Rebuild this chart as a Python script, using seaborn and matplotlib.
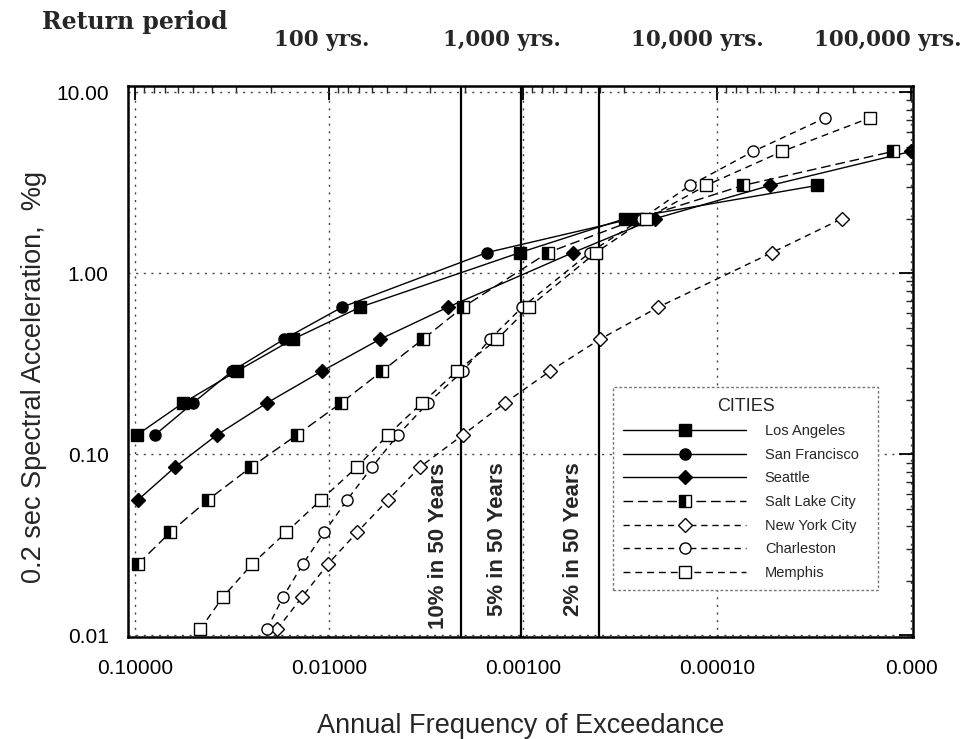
import numpy as np
import pandas as pd
import matplotlib
matplotlib.use('Agg')
import matplotlib.pyplot as plt
import seaborn as sns

# hazard curves: annual frequency vs 0.2 s spectral acceleration (%g)
la_freq = [0.0976, 0.0566, 0.0298, 0.01534, 0.00692, 0.001036, 0.000298, 0.0000305]
la_acc = [0.128, 0.192, 0.288, 0.432, 0.649, 1.3, 2.0, 3.05]

sf_freq = [0.0789, 0.0502, 0.0316, 0.01706, 0.00857, 0.001534, 0.000274]
sf_acc = [0.128, 0.192, 0.288, 0.432, 0.649, 1.3, 2.0]

sea_freq = [0.0965, 0.0622, 0.0378, 0.0209, 0.01087, 0.00546, 0.00244,
            0.000552, 0.000209, 0.0000533, 0.0000100]
sea_acc = [0.056, 0.085, 0.128, 0.192, 0.288, 0.432, 0.649, 1.3, 2.0, 3.05, 4.7]

slc_freq = [0.0965, 0.0660, 0.0421, 0.0252, 0.01462, 0.00867, 0.00533, 0.00328,
            0.00204, 0.000743, 0.000255, 0.0000735, 0.0000124]
slc_acc = [0.0248, 0.037, 0.056, 0.085, 0.128, 0.192, 0.288, 0.432, 0.649,
           1.3, 2.0, 3.05, 4.7]

nyc_freq = [0.01854, 0.01377, 0.01012, 0.00718, 0.00497, 0.0034, 0.00204, 0.00124,
            0.000726, 0.000401, 0.000201, 0.000052, 0.0000227]
nyc_acc = [0.0108, 0.0163, 0.0248, 0.037, 0.056, 0.085, 0.128, 0.192, 0.288,
           0.432, 0.649, 1.3, 2.0]

chs_freq = [0.0209, 0.01726, 0.01362, 0.01061, 0.00807, 0.0060, 0.00441, 0.00309,
            0.00204, 0.00148, 0.00101, 0.000452, 0.000244, 0.000138, 0.0000652, 0.0000277]
chs_acc = [0.0108, 0.0163, 0.0248, 0.037, 0.056, 0.085, 0.128, 0.192, 0.288,
           0.432, 0.649, 1.3, 2.0, 3.05, 4.7, 7.2]

mem_freq = [0.0462, 0.0352, 0.0249, 0.01667, 0.011, 0.00718, 0.00497, 0.00332,
            0.00219, 0.00136, 0.000931, 0.000421, 0.000232, 0.000114, 0.0000462, 0.0000163]
mem_acc = [0.0108, 0.0163, 0.0248, 0.037, 0.056, 0.085, 0.128, 0.192, 0.288,
           0.432, 0.649, 1.3, 2.0, 3.05, 4.7, 7.2]

# probability-of-exceedance lines (annual frequency)
poe_freq = [0.0021, 0.001026, 0.000404]
poe_labels = ['10% in 50 Years', '5% in 50 Years', '2% in 50 Years']
poe_label_x = [0.00274, 0.00136, 0.000552]
poe_label_y = [0.0109, 0.0128, 0.0128]

x_ticks = [0.1, 0.01, 0.001, 0.0001, 0.00001]
x_ticklabels = ['0.10000', '0.01000', '0.00100', '0.00010', '0.000']
y_ticks = [0.01, 0.1, 1, 10]
y_ticklabels = ['0.01', '0.10', '1.00', '10.00']

return_labels = ['100 yrs.', '1,000 yrs.', '10,000 yrs.', '100,000 yrs.']

sns.set_style('white')
plt.rcParams['font.family'] = ['Liberation Sans', 'DejaVu Sans']

fig = plt.figure(figsize=(9.7, 7.39), dpi=100)
ax = fig.add_axes([128 / 970, 1 - 637 / 739, 785 / 970, 551 / 739])
ax.set_xscale('log')
ax.set_yscale('log')

cities = [
    ('Los Angeles', la_freq, la_acc, 's', 'black', '-'),
    ('San Francisco', sf_freq, sf_acc, 'o', 'black', '-'),
    ('Seattle', sea_freq, sea_acc, 'D', 'black', '-'),
    ('Salt Lake City', slc_freq, slc_acc, 's', 'half', (0, (7, 3.5))),
    ('New York City', nyc_freq, nyc_acc, 'D', 'white', (0, (4.5, 3.5))),
    ('Charleston', chs_freq, chs_acc, 'o', 'white', (0, (4.5, 3.5))),
    ('Memphis', mem_freq, mem_acc, 's', 'white', (0, (5, 3.5))),
]

for name, fq, acc, mk, face, ls in cities:
    df = pd.DataFrame({'freq': fq, 'acc': acc})
    kw = dict(marker=mk, markersize=8 if mk != 'D' else 7,
              markeredgecolor='black', markeredgewidth=1.0)
    if face == 'half':
        kw.update(markerfacecolor='black', fillstyle='left', markerfacecoloralt='white')
    else:
        kw.update(markerfacecolor=face)
    sns.lineplot(data=df, x='freq', y='acc', ax=ax, color='black', linewidth=1.0,
                 linestyle=ls, sort=False, errorbar=None, label=name, **kw)

for fq, txt, tx, ty in zip(poe_freq, poe_labels, poe_label_x, poe_label_y):
    ax.axvline(fq, color='black', linewidth=1.6, zorder=1)
    ax.text(tx, ty, txt, rotation=90, ha='center', va='bottom',
            fontsize=16, fontweight='bold')

ax.set_xlim(0.1087, 9.77e-6)
ax.set_ylim(0.0098, 10.8)

ax.set_xticks(x_ticks)
ax.set_xticklabels(x_ticklabels)
ax.set_yticks(y_ticks)
ax.set_yticklabels(y_ticklabels)
ax.tick_params(axis='both', which='major', direction='in', length=10, width=1.3,
               top=True, right=True, labelsize=15, colors='black')
ax.tick_params(axis='x', which='major', pad=16)
ax.tick_params(axis='y', which='major', pad=14)
ax.tick_params(axis='both', which='minor', direction='in', length=5, width=1.0,
               top=True, right=True)
ax.grid(True, which='major', linestyle=(0, (1.5, 4)), color='#444444', linewidth=1.0)
for s in ax.spines.values():
    s.set_linewidth(1.8)
    s.set_color('black')

ax.set_xlabel('Annual Frequency of Exceedance', fontsize=19.5, labelpad=25)
ax.set_ylabel('0.2 sec Spectral Acceleration,  %g', fontsize=19.5, labelpad=4)
ax.yaxis.set_label_coords(-0.103, 0.472)

leg = ax.legend(title='CITIES', loc='lower left', bbox_to_anchor=(0.618, 0.085, 0.338, 0.36),
                mode='expand', borderaxespad=0, fontsize=10.5, title_fontsize=13,
                handlelength=8.4, handletextpad=1.3, labelspacing=0.66, borderpad=0.7,
                fancybox=False, framealpha=1, edgecolor='#777777')
leg.get_frame().set_linestyle((0, (2, 1.5)))
leg.get_frame().set_linewidth(1.0)

fig.text(42 / 970, 1 - 22 / 739, 'Return period', ha='left', va='center',
         fontsize=17, fontweight='bold', family='DejaVu Serif')
for txt, px in zip(return_labels, [322, 502, 697, 888]):
    fig.text(px / 970, 1 - 40 / 739, txt, ha='center', va='center',
             fontsize=15.5, fontweight='bold', family='DejaVu Serif')

fig.savefig('out.png', dpi=100)
